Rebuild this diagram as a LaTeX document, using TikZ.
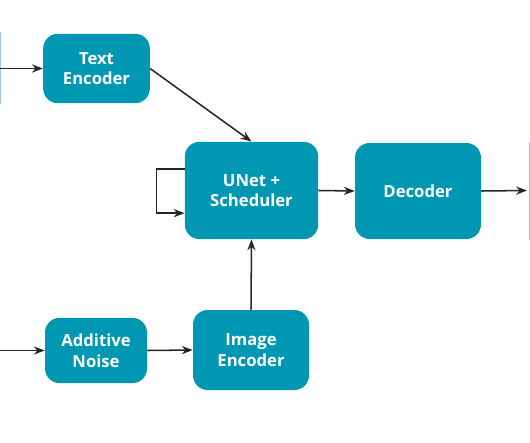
\documentclass[tikz,border=0pt]{standalone}
\usepackage{fontspec}
\setsansfont{Open Sans}
\usepackage{xcolor}
\usepackage{tikz}
\usetikzlibrary{arrows.meta}
\definecolor{boxteal}{RGB}{0,151,178}
\definecolor{stripblue}{RGB}{160,196,238}

\begin{document}
\begin{tikzpicture}[x=0.75pt,y=-0.75pt,>=Stealth,
  blk/.style={fill=boxteal,rounded corners=11pt,text=white,align=center,
    font=\sffamily\bfseries\fontsize{12.5}{15.5}\selectfont},
  link/.style={->,line width=1.15pt,black!85}]
\useasboundingbox (0,0) rectangle (530,442);
% side strips
\draw[stripblue,line width=1pt] (0.7,32)--(0.7,104);
\draw[stripblue,line width=1pt] (529.3,142)--(529.3,240);
% blocks
\node[blk,minimum width=80pt,minimum height=52pt] (te) at (96.5,68.5) {Text\\Encoder};
\node[blk,minimum width=100pt,minimum height=73pt] (unet) at (251.5,190.5) {UNet +\\Scheduler};
\node[blk,minimum width=94.5pt,minimum height=72pt] (dec) at (418,191) {Decoder};
\node[blk,minimum width=76.5pt,minimum height=49pt] (noise) at (96,350.5) {Additive\\Noise};
\node[blk,minimum width=87pt,minimum height=60pt] (ie) at (251,350) {Image\\Encoder};
% free ends
\coordinate (txtin) at (0,68.5);
\coordinate (imgin) at (0,350.5);
\coordinate (out) at (527,190.5);
% links
\draw[link] (txtin)--(te.west);
\draw[link] (te.east)--(unet.north);
\draw[link] ([yshift=16pt]unet.west)--++(-28,0)|-([yshift=-17pt]unet.west);
\draw[link] (unet.east)--(dec.west);
\draw[link] (dec.east)--(out);
\draw[link] (imgin)--(noise.west);
\draw[link] (noise.east)--(ie.west);
\draw[link] (ie.north)--(unet.south);
\end{tikzpicture}
\end{document}
